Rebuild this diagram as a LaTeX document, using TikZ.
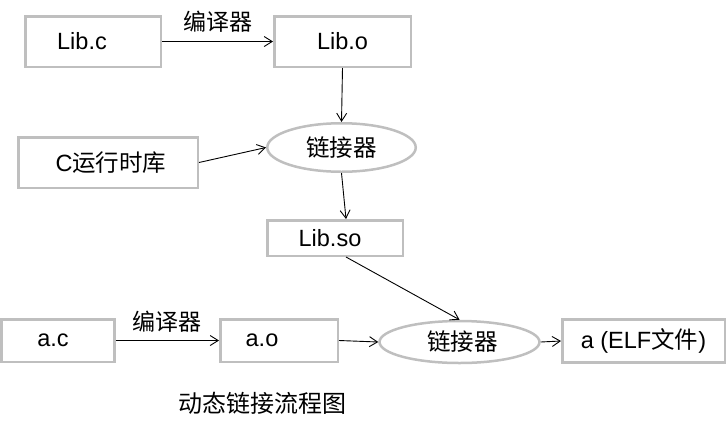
\documentclass[tikz,border=0pt]{standalone}
\usepackage{fontspec}
\setmainfont{Liberation Sans}
\newfontfamily\cjk{Noto Sans CJK SC}
\usetikzlibrary{arrows.meta,shapes.geometric}
\definecolor{boxgray}{RGB}{191,191,191}

\begin{document}
\begin{tikzpicture}[x=1pt,y=-1pt,
    filebox/.style={draw=boxgray,line width=2.5pt,inner sep=0pt,font=\fontsize{23.5}{27}\selectfont},
    linker/.style={ellipse,draw=boxgray,line width=2.5pt,inner sep=0pt,font=\fontsize{23.5}{27}\selectfont\cjk},
    arr/.style={-{Straight Barb[length=8pt,width=10pt]},line width=0.9pt},
    lbl/.style={font=\fontsize{23}{26}\selectfont\cjk}]
  \useasboundingbox (0,0) rectangle (728,421);

  % library side (top)
  \node[filebox,minimum width=135.5pt,minimum height=50.5pt] (libc) at (93,41.5) {Lib.c\hspace*{22pt}};
  \node[filebox,minimum width=136.5pt,minimum height=50.5pt] (libo) at (342.5,41.5) {Lib.o};
  \node[filebox,minimum width=179.5pt,minimum height=50.5pt] (crt) at (108,162.5) {\hspace*{6pt}C{\cjk 运行时库}};
  \node[linker,minimum width=148.5pt,minimum height=48.5pt] (link1) at (341.5,147.5) {链接器};
  \node[filebox,minimum width=135.5pt,minimum height=35.5pt] (libso) at (335,238) {Lib.so\hspace*{10pt}};

  % program side (bottom)
  \node[filebox,minimum width=113pt,minimum height=42.5pt] (ac) at (58,340.5) {a.c\hspace*{10pt}};
  \node[filebox,minimum width=117.5pt,minimum height=42.5pt] (ao) at (279,340.5) {a.o\hspace*{34pt}};
  \node[linker,minimum width=160pt,minimum height=42pt] (link2) at (459.5,342) {\hspace*{6pt}链接器};
  \node[filebox,minimum width=162.5pt,minimum height=43pt] (elf) at (643.5,341) {a (ELF{\cjk 文件})};

  % connectors
  \draw[arr] (libc.east) -- (libo.west) node[midway,above=5pt,lbl] {编译器};
  \draw[arr] (libo.south) -- (link1.north);
  \draw[arr] (crt.east) -- (link1.west);
  \draw[arr] (link1.south) -- ([xshift=11pt]libso.north);
  \draw[arr] ([xshift=11pt]libso.south) -- (link2.north);
  \draw[arr] (ac.east) -- (ao.west) node[midway,above=4pt,lbl] {编译器};
  \draw[arr] (ao.east) -- (link2.west);
  \draw[arr] (link2.east) -- (elf.west);

  % caption
  \node[font=\fontsize{24}{28}\selectfont\cjk] (cap) at (262,403) {动态链接流程图};
\end{tikzpicture}
\end{document}
